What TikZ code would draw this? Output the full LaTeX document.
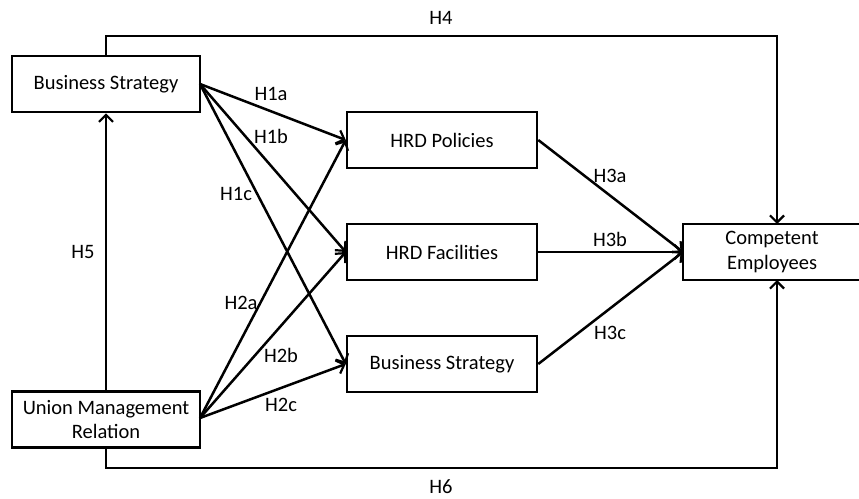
\documentclass[tikz,border=0pt]{standalone}
\usepackage{fontspec}
\setmainfont{Carlito}
\usetikzlibrary{arrows.meta}
\begin{document}
\begin{tikzpicture}[x=1pt,y=-1pt,
  box/.style={draw,line width=2.5pt,minimum width=188pt,minimum height=56pt,inner sep=0pt,align=center,font=\fontsize{20.5}{24.5}\selectfont},
  conn/.style={line width=2.5pt,-{Straight Barb[length=7pt,width=14pt,line width=2.2pt]}},
  lab/.style={font=\fontsize{20.5}{24.5}\selectfont}]
\useasboundingbox (0,0) rectangle (859,498);
\node[box] (bs) at (106,84) {Business Strategy};
\node[box] (umr) at (106,419.5) {Union Management\\Relation};
\node[box,minimum width=190pt] (pol) at (442,140) {HRD Policies};
\node[box,minimum width=190pt] (fac) at (442,252) {HRD Facilities};
\node[box,minimum width=190pt] (bsm) at (442,364) {Business Strategy};
\node[box,minimum width=178pt] (ce) at (772,252) {Competent\\Employees};
\coordinate (ceL) at (683,252);
\coordinate (bsR) at (200,84);
\coordinate (umrR) at (200,418);
\draw[conn] (bsR) -- (pol.west);
\draw[conn] (bsR) -- (fac.west);
\draw[conn] (bsR) -- (bsm.west);
\draw[conn] (umrR) -- (pol.west);
\draw[conn] (umrR) -- (fac.west);
\draw[conn] (umrR) -- (bsm.west);
\draw[conn] (pol.east) -- (ceL);
\draw[conn] (fac.east) -- (ceL);
\draw[conn] (bsm.east) -- (ceL);
\draw[conn] (umr.north) -- (bs.south);
\coordinate (t1) at (106,36);
\coordinate (t2) at (777,36);
\coordinate (ceT) at (777,224);
\coordinate (b1) at (106,468);
\coordinate (b2) at (777,468);
\coordinate (ceB) at (777,280);
\draw[conn,line join=miter] (bs.north) -- (t1) -- (t2) -- (ceT);
\draw[conn,line join=miter] (umr.south) -- (b1) -- (b2) -- (ceB);
\node[lab] (h4) at (441,18) {H4};
\node[lab] (h6) at (441,487) {H6};
\node[lab] (h5) at (83,252) {H5};
\node[lab] (h1a) at (271,94) {H1a};
\node[lab] (h1b) at (271,136) {H1b};
\node[lab] (h1c) at (236,194) {H1c};
\node[lab] (h2a) at (241,303) {H2a};
\node[lab] (h2b) at (281,355) {H2b};
\node[lab] (h2c) at (281,405) {H2c};
\node[lab] (h3a) at (610,176) {H3a};
\node[lab] (h3b) at (610,239) {H3b};
\node[lab] (h3c) at (610,333) {H3c};
\end{tikzpicture}
\end{document}
